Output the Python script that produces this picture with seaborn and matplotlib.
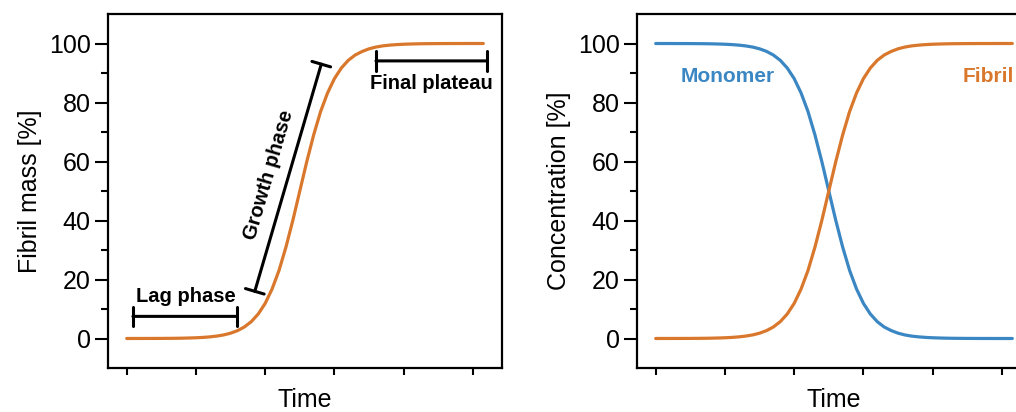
import numpy as np
import pandas as pd
import matplotlib
matplotlib.use("Agg")
import matplotlib.pyplot as plt
import seaborn as sns
from matplotlib.ticker import FixedLocator

# ---- data ----
time = [0.0, 0.1, 0.2, 0.3, 0.4, 0.5, 0.6, 0.7, 0.8, 0.9,
        1.0, 1.1, 1.2, 1.3, 1.4, 1.5, 1.6, 1.7, 1.8, 1.9,
        2.0, 2.1, 2.2, 2.3, 2.4, 2.5, 2.6, 2.7, 2.8, 2.9,
        3.0, 3.1, 3.2, 3.3, 3.4, 3.5, 3.6, 3.7, 3.8, 3.9,
        4.0, 4.1, 4.2, 4.3, 4.4, 4.5, 4.6, 4.7, 4.8, 4.9,
        5.0, 5.1, 5.15]
fibril = [0.00, 0.01, 0.01, 0.02, 0.02, 0.03, 0.05, 0.07, 0.11, 0.17,
          0.25, 0.37, 0.55, 0.82, 1.21, 1.80, 2.66, 3.92, 5.73, 8.32,
          11.9, 16.8, 23.1, 31.0, 40.1, 50.0, 59.9, 69.0, 76.9, 83.2,
          88.1, 91.7, 94.3, 96.1, 97.3, 98.2, 98.8, 99.2, 99.45, 99.63,
          99.75, 99.83, 99.89, 99.93, 99.95, 99.97, 99.98, 99.99, 99.99, 100.0,
          100.0, 100.0, 100.0]
monomer = [100.0, 99.99, 99.99, 99.98, 99.98, 99.97, 99.95, 99.93, 99.89, 99.83,
           99.75, 99.63, 99.45, 99.18, 98.79, 98.2, 97.34, 96.08, 94.27, 91.68,
           88.1, 83.2, 76.9, 69.0, 59.9, 50.0, 40.1, 31.0, 23.1, 16.8,
           11.9, 8.3, 5.7, 3.9, 2.7, 1.8, 1.2, 0.8, 0.55, 0.37,
           0.25, 0.17, 0.11, 0.07, 0.05, 0.03, 0.02, 0.01, 0.01, 0.0,
           0.0, 0.0, 0.0]
x_ticks = [0, 1, 2, 3, 4, 5]
y_major = [0, 20, 40, 60, 80, 100]
y_minor = [10, 30, 50, 70, 90]
species = ["Monomer", "Fibril"]

BLUE = "#3b87c3"
ORANGE = "#d9782d"

sns.set_style("ticks")
plt.rcParams["font.family"] = ["Liberation Sans", "DejaVu Sans"]
plt.rcParams["text.color"] = "black"
plt.rcParams["axes.labelcolor"] = "black"

fig = plt.figure(figsize=(10.16, 4.12), dpi=100)
axw = 394 / 1016
axh = 354 / 412
ax1 = fig.add_axes([108 / 1016, 44 / 412, axw, axh])
ax2 = fig.add_axes([637 / 1016, 44 / 412, axw, axh])

df1 = pd.DataFrame({"Time": time, "Fibril": fibril})
sns.lineplot(data=df1, x="Time", y="Fibril", ax=ax1, color=ORANGE, lw=2.3)

df2 = pd.concat([
    pd.DataFrame({"Time": time, "value": monomer, "species": species[0]}),
    pd.DataFrame({"Time": time, "value": fibril, "species": species[1]}),
])
sns.lineplot(data=df2, x="Time", y="value", hue="species", ax=ax2,
             palette={"Monomer": BLUE, "Fibril": ORANGE}, lw=2.3, legend=False)

for ax, ylab in [(ax1, "Fibril mass [%]"), (ax2, "Concentration [%]")]:
    ax.set_xlim(-0.27, 5.42)
    ax.set_ylim(-10, 110)
    ax.xaxis.set_major_locator(FixedLocator(x_ticks))
    ax.set_xticklabels([])
    ax.yaxis.set_major_locator(FixedLocator(y_major))
    ax.yaxis.set_minor_locator(FixedLocator(y_minor))
    ax.tick_params(axis="y", which="major", length=9.5, width=1.5, labelsize=18, pad=3,
                   color="black", labelcolor="black")
    ax.tick_params(axis="y", which="minor", length=5, width=1.5, color="black")
    ax.tick_params(axis="x", which="major", length=5, width=1.5, color="black")
    for s in ax.spines.values():
        s.set_visible(True)
        s.set_linewidth(1.6)
        s.set_color("black")
    ax.set_xlabel("Time", fontsize=18, labelpad=6, color="black")
    ax.set_ylabel(ylab, fontsize=18, labelpad=5, color="black")

bar = dict(arrowstyle="|-|,widthA=0.35,widthB=0.35", lw=2.2, color="black",
           shrinkA=0, shrinkB=0, mutation_scale=20)
ax1.annotate("", xy=(1.6, 7.5), xytext=(0.09, 7.5), arrowprops=bar)
ax1.text(0.85, 14.3, "Lag phase", ha="center", va="center", fontsize=14.5,
         fontweight="bold", color="black")
ax1.annotate("", xy=(5.2, 94.1), xytext=(3.6, 94.1), arrowprops=bar)
ax1.text(4.4, 86.3, "Final plateau", ha="center", va="center", fontsize=14.5,
         fontweight="bold", color="black")
ax1.annotate("", xy=(2.81, 93.0), xytext=(1.85, 16.0), arrowprops=bar)
ax1.text(2.05, 55.3, "Growth phase", ha="center", va="center", fontsize=14.5,
         fontweight="bold", rotation=73.6, rotation_mode="anchor", color="black")

ax2.text(1.04, 88.8, "Monomer", ha="center", va="center", fontsize=15,
         fontweight="bold", color=BLUE)
ax2.text(5.18, 88.8, "Fibril", ha="right", va="center", fontsize=15,
         fontweight="bold", color=ORANGE)

fig.savefig("out.png", dpi=100)
